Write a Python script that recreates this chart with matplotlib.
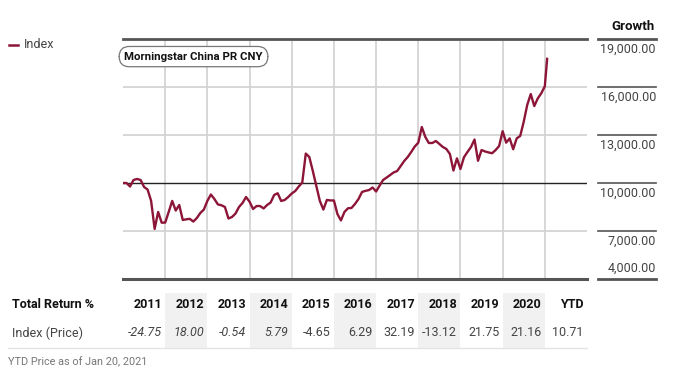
import numpy as np
from matplotlib import pyplot as plt
from matplotlib import transforms
from matplotlib.patches import Rectangle

plt.rcParams['font.family'] = ['Liberation Sans Narrow', 'Roboto', 'DejaVu Sans']

# monthly index values, end of Dec 2010 .. end of Dec 2020, then Jan 20, 2021
index_values = [
    10000, 10000, 9780, 10190, 10250, 10190, 9750, 9590, 8880, 7130, 8190, 7520,
    7525, 8190, 8880, 8280, 8625, 7690, 7730, 7760, 7590, 7810, 8125, 8340,
    8880, 9280, 9000, 8660, 8610, 8500, 7780, 7875, 8090, 8500, 8750, 9125,
    8832, 8375, 8560, 8560, 8410, 8625, 8780, 9250, 9360, 8875, 8940, 9125,
    9343, 9500, 9780, 10030, 11840, 11625, 10750, 9810, 8880, 8340, 8940, 8910,
    8908, 8060, 7660, 8190, 8420, 8440, 8690, 9000, 9440, 9510, 9560, 9720,
    9469, 9840, 10190, 10340, 10500, 10660, 10750, 11060, 11375, 11625, 11940, 12280,
    12517, 13500, 12880, 12500, 12500, 12625, 12440, 12250, 12125, 11810, 10780, 11540,
    10875, 11610, 11940, 12250, 12720, 11390, 12060, 11970, 11910, 11860, 12060, 12310,
    13240, 12520, 12790, 12110, 12790, 12940, 13830, 14880, 15560, 14810, 15290, 15610,
    16042, 17760,
]
index_x = [2011 + i / 12 for i in range(121)] + [2021 + 20 / 365]

growth_ticks = [19000, 16000, 13000, 10000, 7000, 4000]
growth_labels = ['19,000.00', '16,000.00', '13,000.00', '10,000.00', '7,000.00', '4,000.00']

years = ['2011', '2012', '2013', '2014', '2015', '2016', '2017', '2018', '2019', '2020', 'YTD']
returns = ['-24.75', '18.00', '-0.54', '5.79', '-4.65', '6.29', '32.19', '-13.12',
           '21.75', '21.16', '10.71']
italic_cols = [0, 1, 2, 3]

line_color = '#8c1538'
grid_color = '#d4d4d4'
dark = '#555555'
text_gray = '#444444'

W, H = 675, 376
fig = plt.figure(figsize=(W / 100, H / 100), dpi=100)
ax = fig.add_axes([123 / W, 1 - 279 / H, 464 / W, 240 / H])


def fy(y):
    return 1 - y / H


ax.set_xlim(2011, 2022)
ax.set_ylim(4000, 19000)
for yr in range(2012, 2022):
    ax.axvline(yr, color=grid_color, lw=1.3, zorder=1)
for v in [7000, 13000, 16000]:
    ax.axhline(v, color=grid_color, lw=1.3, zorder=1)
ax.axhline(10000, color='#222222', lw=1.0, zorder=2)

ax.plot(index_x, index_values, color=line_color, lw=1.7, zorder=3)

for s in ['left', 'right']:
    ax.spines[s].set_visible(False)
ax.spines['top'].set_color(dark)
ax.spines['top'].set_linewidth(2.0)
ax.spines['bottom'].set_color(dark)
ax.spines['bottom'].set_linewidth(2.2)
ax.set_xticks([])
ax.set_yticks([])

ax.text(2011.03, 17900, 'Morningstar China PR CNY', fontsize=8.2, fontweight='bold',
        color='#111111', va='center', ha='left', zorder=5,
        bbox=dict(boxstyle='round,pad=0.45,rounding_size=0.9', fc='white',
                  ec='#777777', lw=0.9))

# right growth scale
tr = transforms.blended_transform_factory(ax.transAxes, ax.transData)
x0, x1 = (598 - 123) / 464, (656 - 123) / 464
for v, lab in zip(growth_ticks, growth_labels):
    lw = 2.0 if v in (19000, 4000) else 1.2
    ax.plot([x0, x1], [v, v], transform=tr, color=dark, lw=lw, clip_on=False)
    off = 8 if v == 4000 else -7.5
    ax.annotate(lab, xy=(x1, v), xycoords=tr, xytext=(0, off), textcoords='offset points',
                ha='right', va='center', fontsize=9, color=text_gray)
fig.text(655 / W, fy(27), 'Growth', ha='right', va='center', fontsize=9.5,
         fontweight='bold', color='#111111')

# legend
fig.lines.append(plt.Line2D([9 / W, 18 / W], [fy(45), fy(45)], color=line_color, lw=1.8,
                            transform=fig.transFigure))
fig.text(24 / W, fy(45), 'Index', ha='left', va='center', fontsize=9, color=text_gray)

# table
tt = transforms.blended_transform_factory(ax.transData, fig.transFigure)
for k in range(1, 10, 2):
    ax.add_patch(Rectangle((2011 + k, fy(348)), 1, (348 - 293) / H, transform=tt,
                           fc='#f1f1f1', ec='none', clip_on=False, zorder=0))
fig.text(12 / W, fy(305), 'Total Return %', ha='left', va='center', fontsize=9,
         fontweight='bold', color='#111111')
fig.text(12 / W, fy(333), 'Index (Price)', ha='left', va='center', fontsize=9,
         color=text_gray)
for k, (yr, r) in enumerate(zip(years, returns)):
    xr = 2011 + k + 0.92
    ax.text(xr, fy(305), yr, transform=tt, ha='right', va='center', fontsize=9,
            fontweight='bold', color='#111111')
    ax.text(xr, fy(333), r, transform=tt, ha='right', va='center', fontsize=9,
            color=text_gray, style='italic' if k in italic_cols else 'normal')
fig.lines.append(plt.Line2D([8 / W, 587 / W], [fy(348), fy(348)], color='#e4e4e4', lw=1.0,
                            transform=fig.transFigure))
fig.text(8 / W, fy(362), 'YTD Price as of Jan 20, 2021', ha='left', va='center',
         fontsize=7.8, color='#777777')

fig.savefig('out.png', dpi=100)
